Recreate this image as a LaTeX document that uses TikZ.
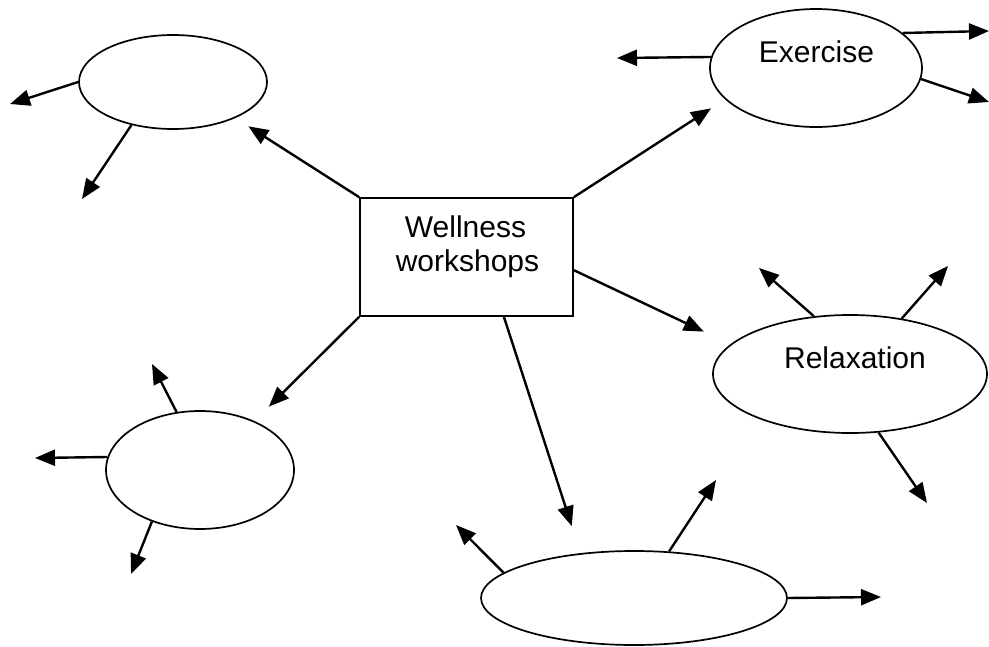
\documentclass[tikz,border=0pt]{standalone}
\usepackage{fontspec}
\setmainfont{Liberation Sans}
\usetikzlibrary{arrows.meta,shapes.geometric}
\begin{document}
\begin{tikzpicture}[x=1pt,y=-1pt,
  bub/.style={ellipse,draw,line width=1.7pt,inner sep=0pt},
  boxnode/.style={rectangle,draw,line width=1.7pt,inner sep=0pt},
  conn/.style={line width=2.4pt,-{Triangle[length=20pt,width=16pt]}},
  lbl/.style={inner sep=0pt,font=\fontsize{30}{34}\selectfont}]
\useasboundingbox (0,0) rectangle (989,646);
% main box
\node[boxnode,minimum width=213pt,minimum height=118pt] (wb) at (466.5,257) {};
\node[lbl,anchor=base] (w1) at (465.5,237) {Wellness};
\node[lbl,anchor=base] (w2) at (467.5,271) {workshops};
% bubbles
\node[bub,minimum width=188pt,minimum height=94pt] (tl) at (173,82) {};
\node[bub,minimum width=212pt,minimum height=118pt] (ex) at (816,68) {};
\node[bub,minimum width=274pt,minimum height=118pt] (rx) at (850,374) {};
\node[bub,minimum width=188pt,minimum height=118pt] (bl) at (200,470) {};
\node[bub,minimum width=306pt,minimum height=94pt] (bo) at (634,598) {};
\node[lbl,anchor=base] (extxt) at (816.5,62.7) {Exercise};
\node[lbl,anchor=base] (rxtxt) at (855,368) {Relaxation};
% box connectors
\draw[conn,shorten >=15.4pt] (wb.north west) -- (tl.-30);
\draw[conn,shorten >=16.6pt] (wb.north east) -- (ex.199);
\draw[conn,shorten >=29.5pt] (wb.-7) -- (rx.166.8);
\draw[conn,shorten >=20.4pt] (wb.south west) -- (bl.42.3);
\draw[conn,shorten >=28.4pt] (wb.-58.3) -- (bo.140.4);
% free ends
\coordinate (t1) at (10,104);
\coordinate (t2) at (82,199);
\coordinate (e1) at (617,58);
\coordinate (e2) at (989,31);
\coordinate (e3) at (989,102);
\coordinate (r1) at (759,268);
\coordinate (r2) at (948,266);
\coordinate (r3) at (927,503);
\coordinate (b1) at (152,364);
\coordinate (b2) at (35,458);
\coordinate (b3) at (131,574);
\coordinate (o1) at (456,525);
\coordinate (o2) at (716,480);
\coordinate (o3) at (881,597);
\draw[conn] (tl.west) -- (t1);
\draw[conn] (tl.226) -- (t2);
\draw[conn] (ex.174.5) -- (e1);
\draw[conn] (ex.22.7) -- (e2);
\draw[conn] (ex.-6.6) -- (e3);
\draw[conn] (rx.122) -- (r1);
\draw[conn] (rx.47.7) -- (r2);
\draw[conn] (rx.-64.2) -- (r3);
\draw[conn] (bl.112.8) -- (b1);
\draw[conn] (bl.172.6) -- (b2);
\draw[conn] (bl.227.4) -- (b3);
\draw[conn] (bo.169.5) -- (o1);
\draw[conn] (bo.53.4) -- (o2);
\draw[conn] (bo.east) -- (o3);
\end{tikzpicture}
\end{document}
